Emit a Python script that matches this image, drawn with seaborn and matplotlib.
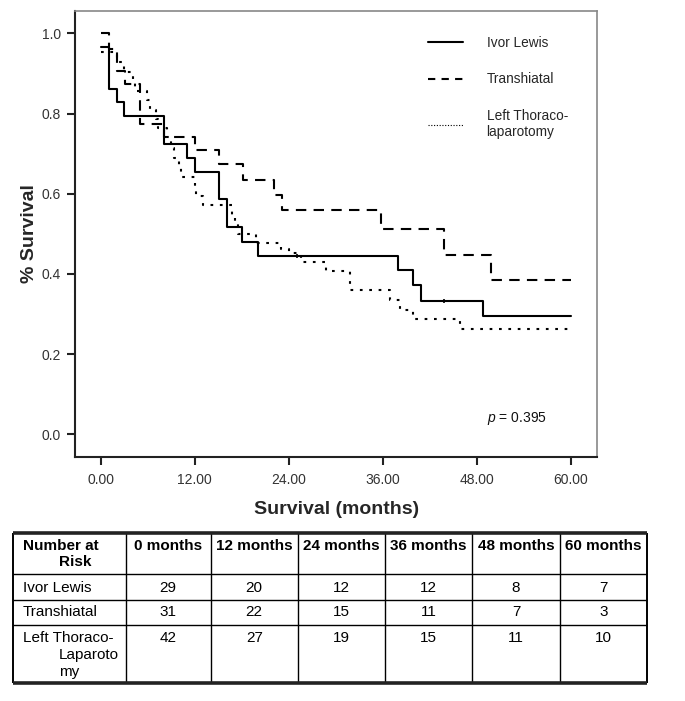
import numpy as np
import pandas as pd
import matplotlib
matplotlib.use("Agg")
import matplotlib.pyplot as plt
import seaborn as sns
from matplotlib import font_manager
from matplotlib.lines import Line2D
from matplotlib.ticker import FormatStrFormatter

# Kaplan-Meier steps (months, proportion surviving)
ivor_t = [0, 1.0, 2.0, 3.0, 8.05, 11.0, 12.0, 15.1, 16.05, 18.0, 20.1, 37.9, 39.9, 40.9, 48.8, 60]
ivor_s = [0.967, 0.862, 0.828, 0.793, 0.724, 0.690, 0.655, 0.587, 0.518, 0.480, 0.444,
          0.410, 0.372, 0.333, 0.294, 0.294]

trans_t = [0, 1.1, 2.1, 3.1, 5.0, 8.1, 12.0, 15.1, 18.1, 22.1, 23.1, 35.8, 43.8, 49.8, 60]
trans_s = [1.0, 0.960, 0.906, 0.875, 0.774, 0.742, 0.709, 0.674, 0.634, 0.598, 0.559,
           0.513, 0.448, 0.385, 0.385]

lt_t = [0, 2.0, 3.0, 4.1, 4.3, 5.9, 6.3, 7.0, 7.3, 8.4, 9.0, 9.3, 10.0, 10.2, 12.0, 12.2,
        13.0, 16.8, 17.1, 17.5, 19.8, 23.0, 24.0, 25.5, 28.8, 31.8, 36.9, 38.2, 39.9, 45.9, 60]
lt_s = [0.953, 0.929, 0.905, 0.881, 0.857, 0.833, 0.810, 0.786, 0.764, 0.742, 0.714, 0.690,
        0.667, 0.643, 0.619, 0.595, 0.572, 0.547, 0.524, 0.500, 0.476, 0.461, 0.452, 0.429,
        0.407, 0.360, 0.336, 0.310, 0.288, 0.262, 0.262]

# censored observations visible on the Ivor Lewis curve
cens_t = [25.1, 43.8]
cens_s = [0.444, 0.333]

groups = ["Ivor Lewis", "Transhiatal", "Left Thoraco-laparotomy"]
legend_labels = ["Ivor Lewis", "Transhiatal", "Left Thoraco-\nlaparotomy"]

# number at risk table
risk_header = ["Number at", "Risk"]
risk_cols = ["0 months", "12 months", "24 months", "36 months", "48 months", "60 months"]
risk_rows = ["Ivor Lewis", "Transhiatal", "Left Thoraco-"]
risk_ivor = [29, 20, 12, 12, 8, 7]
risk_trans = [31, 22, 15, 11, 7, 3]
risk_lt = [42, 27, 19, 15, 11, 10]

names = font_manager.get_font_names()
narrow = "Liberation Sans Narrow" if "Liberation Sans Narrow" in names else "Liberation Sans"

sns.set_style("white")
plt.rcParams["font.family"] = ["Liberation Sans", "DejaVu Sans"]
plt.rcParams["mathtext.fontset"] = "custom"
plt.rcParams["mathtext.it"] = narrow + ":italic"
plt.rcParams["mathtext.rm"] = narrow

W, H = 685, 701
fig = plt.figure(figsize=(W / 100, H / 100), dpi=100)

# plot area in pixels
left, right, top, bottom = 75, 597.3, 11, 456.7
ax = fig.add_axes([left / W, 1 - bottom / H, (right - left) / W, (bottom - top) / H])

df = pd.concat([
    pd.DataFrame({"Months": ivor_t, "Survival": ivor_s, "Group": groups[0]}),
    pd.DataFrame({"Months": trans_t, "Survival": trans_s, "Group": groups[1]}),
    pd.DataFrame({"Months": lt_t, "Survival": lt_s, "Group": groups[2]}),
], ignore_index=True)

sns.lineplot(data=df, x="Months", y="Survival", hue="Group", style="Group",
             hue_order=groups, style_order=groups,
             palette={g: "black" for g in groups},
             dashes={groups[0]: "", groups[1]: (5, 3.5), groups[2]: (1.3, 3.2)},
             drawstyle="steps-post", estimator=None, sort=False, legend=False,
             linewidth=1.5, ax=ax)
ax.plot(cens_t, cens_s, ls="none", marker="|", ms=3, mew=1.2, color="black")

ax.set_xlim(-3.3, 63.4)
ax.set_ylim(-0.056, 1.056)
ax.set_xticks([0, 12, 24, 36, 48, 60])
ax.set_yticks([0, 0.2, 0.4, 0.6, 0.8, 1.0])
ax.xaxis.set_major_formatter(FormatStrFormatter("%.2f"))
ax.yaxis.set_major_formatter(FormatStrFormatter("%.1f"))
ax.tick_params(axis="both", direction="out", length=6, width=1.5, color="#222",
               labelsize=10, labelcolor="#333", pad=4)
ax.tick_params(axis="x", pad=6)
ax.tick_params(left=True, bottom=True)
for s in ["left", "bottom"]:
    ax.spines[s].set_color("#222")
    ax.spines[s].set_linewidth(1.5)
for s in ["top", "right"]:
    ax.spines[s].set_color("#888")
    ax.spines[s].set_linewidth(1.2)

ax.set_xlabel("Survival (months)", fontsize=14, fontweight="bold", labelpad=10)
ax.set_ylabel("% Survival", fontsize=14, fontweight="bold", labelpad=3)

handles = [
    Line2D([], [], color="black", lw=1.5),
    Line2D([], [], color="black", lw=1.5, dashes=(3.5, 3)),
    Line2D([], [], color="black", lw=0.8, dashes=(1, 1.5)),
]
ax.legend(handles, legend_labels, loc="upper left", bbox_to_anchor=(0.663, 0.96),
          frameon=False, handlelength=2.6, handletextpad=1.7, labelspacing=1.67,
          borderpad=0, prop={"family": narrow, "size": 9.8})

ax.text(49.3, 0.04, r"$\mathit{p}$ = 0.395", fontsize=10, family=narrow,
        ha="left", va="center", color="#111")

# number-at-risk table drawn in its own pixel-coordinate axes
tx0, tx1, ty0, ty1 = 13, 647, 533, 683
tab = fig.add_axes([tx0 / W, 1 - ty1 / H, (tx1 - tx0) / W, (ty1 - ty0) / H])
tab.set_xlim(tx0, tx1)
tab.set_ylim(ty1, ty0)
tab.axis("off")

col_edges = [13, 125.6, 210.6, 297.8, 385, 472.3, 559.9, 647]
row_edges = [533, 574, 600, 625, 683]
for x in col_edges:
    tab.plot([x, x], [ty0, ty1], color="black", lw=1.0 if x not in (13, 647) else 1.4,
             clip_on=False, solid_capstyle="butt")
for i, y in enumerate(row_edges):
    lw = 2.6 if i in (0, len(row_edges) - 1) else 1.0
    c = "#222" if lw > 2 else "black"
    tab.plot([tx0, tx1], [y, y], color=c, lw=lw, clip_on=False, solid_capstyle="butt")

fs = dict(family=narrow, size=11, color="black")
tab.text(22.6, 546, risk_header[0], ha="left", va="center", fontweight="bold", **fs)
tab.text(59, 562, risk_header[1], ha="left", va="center", fontweight="bold", **fs)
centers = [(col_edges[i] + col_edges[i + 1]) / 2 for i in range(1, 7)]
for cx, lab in zip(centers, risk_cols):
    tab.text(cx, 546, lab, ha="center", va="center", fontweight="bold", **fs)

row_y = [587.5, 612.5, 638]
tab.text(22.6, row_y[0], risk_rows[0], ha="left", va="center", **fs)
tab.text(22.6, row_y[1], risk_rows[1], ha="left", va="center", **fs)
tab.text(22.6, row_y[2], risk_rows[2], ha="left", va="center", **fs)
tab.text(59, 655, "Laparoto", ha="left", va="center", **fs)
tab.text(59, 672, "my", ha="left", va="center", **fs)
for vals, y in zip([risk_ivor, risk_trans, risk_lt], row_y):
    for cx, v in zip(centers, vals):
        tab.text(cx, y, str(v), ha="center", va="center", **fs)

fig.savefig("out.png", dpi=100)
